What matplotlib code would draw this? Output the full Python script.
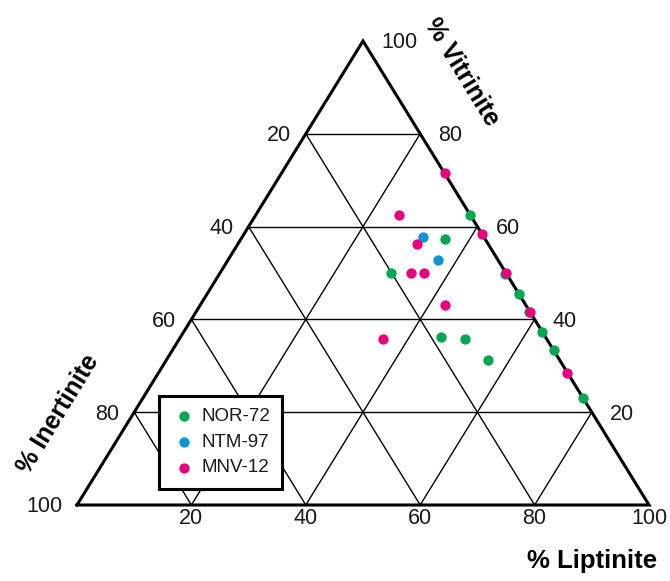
import numpy as np
import matplotlib.pyplot as plt

plt.rcParams['font.family'] = ['Liberation Sans', 'DejaVu Sans']

# ternary data: (% Liptinite, % Vitrinite); Inertinite = 100 - L - V
nor_lip = [37.5, 35.7, 30.0, 50.0, 54.5, 62.7, 45.5, 50.0, 56.2, 66.7, 77.0, 58.3]
nor_vit = [62.5, 57.3, 49.9, 49.7, 45.5, 37.3, 36.3, 35.7, 31.2, 33.3, 23.0, 41.5]

ntm_lip = [31.6, 36.8]
ntm_vit = [57.8, 52.7]

mnv_lip = [28.5, 25.0, 41.7, 31.3, 33.4, 35.8, 49.9, 58.3, 42.8, 35.7, 71.5]
mnv_vit = [71.5, 62.5, 58.3, 56.2, 49.9, 49.9, 50.1, 41.7, 43.0, 35.7, 28.5]

ticks = [20, 40, 60, 80]
all_ticks = [20, 40, 60, 80, 100]


def tern(lip, vit):
    lip = np.asarray(lip) / 100.0
    vit = np.asarray(vit) / 100.0
    return lip + vit / 2.0, vit


W, H = 670, 581
fig = plt.figure(figsize=(W / 100, H / 100), dpi=100)
# triangle corners in pixels: (77,505) (649,505) apex (363,41)
ax = fig.add_axes([77 / W, (H - 505) / H, (649 - 77) / W, (505 - 41) / H])
ax.set_xlim(0, 1)
ax.set_ylim(0, 1)
ax.axis('off')

# grid lines
for t in ticks:
    k = t / 100.0
    ax.plot([k / 2, 1 - k / 2], [k, k], color='black', lw=1.0, zorder=1)
    ax.plot([k, k + (1 - k) / 2], [0, 1 - k], color='black', lw=1.0, zorder=1)
    ax.plot([1 - k, (1 - k) / 2], [0, 1 - k], color='black', lw=1.0, zorder=1)

# outline
ax.plot([0, 1, 0.5, 0], [0, 0, 1, 0], color='black', lw=2.2, zorder=2,
        solid_joinstyle='miter', clip_on=False)

x, y = tern(nor_lip, nor_vit)
ax.scatter(x, y, s=55, color='#00a651', lw=0, zorder=3, clip_on=False, label='NOR-72')
x, y = tern(ntm_lip, ntm_vit)
ax.scatter(x, y, s=55, color='#0a93d5', lw=0, zorder=3, clip_on=False, label='NTM-97')
x, y = tern(mnv_lip, mnv_vit)
ax.scatter(x, y, s=55, color='#e6007e', lw=0, zorder=4, clip_on=False, label='MNV-12')

tc = '#1a1a1a'
fs = 15.5
# liptinite labels (bottom)
for t in all_ticks:
    ax.annotate(str(t), (t / 100.0, 0), xytext=(0, -14), textcoords='offset pixels',
                ha='center', va='center', fontsize=fs, color=tc)
# vitrinite labels (right edge)
for t in all_ticks:
    v = t / 100.0
    ax.annotate(str(t), (1 - v / 2, v), xytext=(18, -2), textcoords='offset pixels',
                ha='left', va='center', fontsize=fs, color=tc)
# inertinite labels (left edge)
for t in all_ticks:
    v = (100 - t) / 100.0
    ax.annotate(str(t), (v / 2, v), xytext=(-15, -2), textcoords='offset pixels',
                ha='right', va='center', fontsize=fs, color=tc)

fig.text(592 / W, 1 - 561 / H, '% Liptinite', ha='center', va='center',
         fontsize=18.5, fontweight='bold')
fig.text(462 / W, 1 - 72 / H, '% Vitrinite', ha='center', va='center',
         fontsize=18, fontweight='bold', rotation=-58.5, rotation_mode='anchor')
fig.text(58 / W, 1 - 414 / H, '% Inertinite', ha='center', va='center',
         fontsize=18, fontweight='bold', rotation=58.5, rotation_mode='anchor')

leg = ax.legend(loc='upper left', bbox_to_anchor=(159 / W, 1 - 396 / H),
                bbox_transform=fig.transFigure, fontsize=13.5, frameon=True,
                fancybox=False, edgecolor='black', framealpha=1,
                handletextpad=0.2, labelspacing=0.45, borderpad=0.65,
                handlelength=1.4, borderaxespad=0)
leg.get_frame().set_linewidth(2.2)
for txt in leg.get_texts():
    txt.set_color(tc)

fig.savefig('out.png', dpi=100)
